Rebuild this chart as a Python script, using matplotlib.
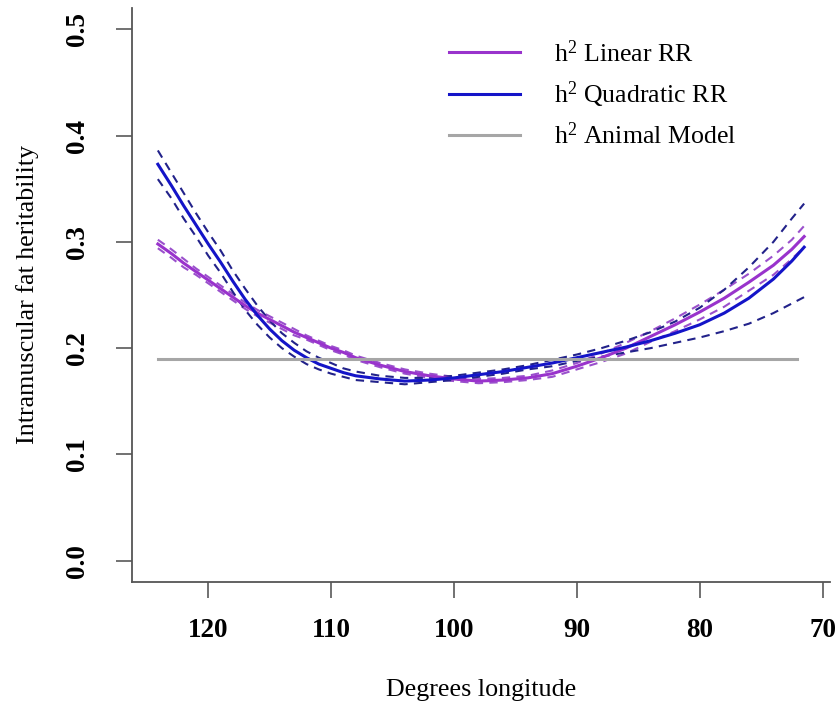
import matplotlib
matplotlib.use("Agg")
import matplotlib.pyplot as plt
import numpy as np

# ---- data ----
longitude = [124.1, 123, 122, 121, 120, 119, 118, 117, 116, 115, 114, 113, 112, 111,
             110, 109, 108, 106, 104, 102, 100, 98, 96, 94, 92, 90, 88, 86, 84, 82,
             80, 78, 76, 74, 72.5, 71.5]

linear_rr = [0.298, 0.289, 0.280, 0.272, 0.264, 0.256, 0.248, 0.240, 0.233, 0.227, 0.221,
             0.215, 0.210, 0.205, 0.200, 0.196, 0.191, 0.184, 0.178, 0.174, 0.171, 0.169,
             0.170, 0.172, 0.176, 0.183, 0.191, 0.200, 0.211, 0.222, 0.234, 0.247, 0.262,
             0.278, 0.293, 0.305]
linear_hw = [0.004, 0.004, 0.004, 0.003, 0.003, 0.003, 0.003, 0.003, 0.003, 0.003, 0.003,
             0.003, 0.002, 0.002, 0.002, 0.002, 0.002, 0.002, 0.002, 0.002, 0.002, 0.002,
             0.002, 0.002, 0.003, 0.003, 0.004, 0.005, 0.005, 0.006, 0.007, 0.008, 0.008,
             0.009, 0.009, 0.010]

quad_rr = [0.373, 0.353, 0.334, 0.316, 0.298, 0.281, 0.263, 0.246, 0.231, 0.218, 0.207,
           0.198, 0.191, 0.185, 0.181, 0.177, 0.174, 0.171, 0.169, 0.170, 0.172, 0.175,
           0.178, 0.182, 0.186, 0.191, 0.196, 0.201, 0.207, 0.214, 0.222, 0.233, 0.247,
           0.265, 0.282, 0.295]
quad_upper = [0.386, 0.365, 0.346, 0.327, 0.309, 0.292, 0.273, 0.256, 0.240, 0.226, 0.214,
              0.205, 0.197, 0.191, 0.186, 0.181, 0.178, 0.174, 0.172, 0.172, 0.174, 0.177,
              0.180, 0.184, 0.189, 0.194, 0.200, 0.207, 0.215, 0.225, 0.238, 0.255, 0.276,
              0.300, 0.322, 0.336]
quad_lower = [0.359, 0.341, 0.322, 0.305, 0.287, 0.271, 0.253, 0.236, 0.222, 0.210, 0.200,
              0.192, 0.185, 0.180, 0.176, 0.173, 0.170, 0.168, 0.166, 0.168, 0.170, 0.173,
              0.176, 0.180, 0.183, 0.188, 0.192, 0.196, 0.200, 0.205, 0.210, 0.216, 0.223,
              0.233, 0.242, 0.248]

animal_h2 = 0.19
animal_x = [124.1, 72.1]

xticks = [120, 110, 100, 90, 80, 70]
yticks = [0.0, 0.1, 0.2, 0.3, 0.4, 0.5]

labels = [r"$\mathrm{h}^{2}$ Linear RR", r"$\mathrm{h}^{2}$ Quadratic RR",
          r"$\mathrm{h}^{2}$ Animal Model"]

# ---- style ----
plt.rcParams["font.family"] = ["Liberation Serif", "DejaVu Serif"]
plt.rcParams["mathtext.fontset"] = "custom"
plt.rcParams["mathtext.rm"] = "Liberation Serif"
plt.rcParams["mathtext.it"] = "Liberation Serif:italic"
plt.rcParams["mathtext.bf"] = "Liberation Serif:bold"

c_lin = "#9933cc"
c_lin_d = "#9a50cc"
c_quad = "#1414c8"
c_quad_d = "#22228a"
c_gray = "#a6a6a6"

fig = plt.figure(figsize=(8.38, 7.10), dpi=100)
ax = fig.add_axes([132 / 838, 1 - 582 / 710, (830 - 132) / 838, (582 - 8) / 710])

x = np.array(longitude)
lin = np.array(linear_rr)
hw = np.array(linear_hw)

dash = (0, (4, 3))
ax.plot(x, lin + hw, color=c_lin_d, lw=1.5, ls=dash)
ax.plot(x, lin - hw, color=c_lin_d, lw=1.5, ls=dash)
ax.plot(x, quad_upper, color=c_quad_d, lw=1.5, ls=dash)
ax.plot(x, quad_lower, color=c_quad_d, lw=1.5, ls=dash)
l1, = ax.plot(x, lin, color=c_lin, lw=2.2, label=labels[0])
l2, = ax.plot(x, quad_rr, color=c_quad, lw=2.2, label=labels[1])
l3, = ax.plot(animal_x, [animal_h2, animal_h2], color=c_gray, lw=2.2, label=labels[2])

xr = max(longitude) - min(longitude)
ax.set_xlim(max(longitude) + 0.04 * xr, min(longitude) - 0.04 * xr)
ax.set_ylim(-0.02, 0.52)

for s in ["top", "right"]:
    ax.spines[s].set_visible(False)
for s in ["left", "bottom"]:
    ax.spines[s].set_color("#555555")
    ax.spines[s].set_linewidth(1.3)

ax.set_xticks(xticks)
ax.set_xticklabels([str(t) for t in xticks], fontweight="bold", fontsize=19.5)
ax.set_yticks(yticks)
ax.set_yticklabels([f"{t:.1f}" for t in yticks], fontweight="bold", fontsize=19.5,
                   rotation=90, va="center")
ax.tick_params(axis="both", direction="out", length=11.5, width=1.3, color="#666666")
ax.tick_params(axis="x", pad=14.5)
ax.tick_params(axis="y", pad=19)

ax.set_xlabel("Degrees longitude", fontsize=18.7, va="center")
ax.xaxis.set_label_coords(0.5, -(690 - 582) / 574)
ax.set_ylabel("Intramuscular fat heritability", fontsize=18.7, va="center")
ax.yaxis.set_label_coords(-(132 - 28) / 698, 0.5)

ax.legend(handles=[l1, l2, l3], loc="upper left", frameon=False, fontsize=18.6,
          handlelength=2.75, handletextpad=1.3, labelspacing=0.5, borderpad=0,
          borderaxespad=0, bbox_to_anchor=(449 / 838, 1 - 40 / 710),
          bbox_transform=fig.transFigure)

fig.savefig("out.png", dpi=100)
